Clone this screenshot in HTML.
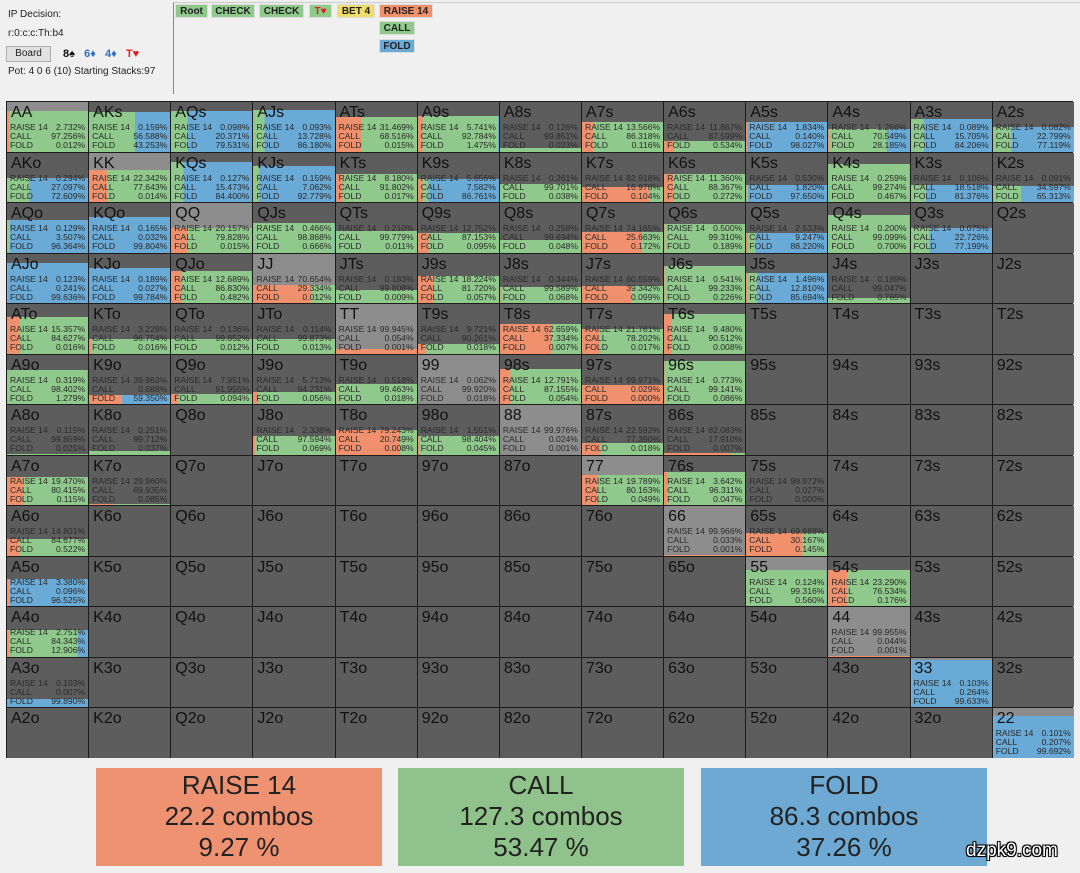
<!DOCTYPE html>
<html><head><meta charset="utf-8"><style>
*{box-sizing:border-box}
body{margin:0;width:1080px;height:873px;background:#f0f0f0;font-family:"Liberation Sans",sans-serif;position:relative;overflow:hidden;color:#222}
.t{position:absolute;font-size:10px;color:#222;white-space:nowrap}
.btn{position:absolute;font-size:10px;font-weight:bold;text-align:center;line-height:14px;height:14px;border:1px solid #ddd}
#g{position:absolute;left:6px;top:101px;width:1067px;height:657px;background:#1c1c1c;border:1px solid #1c1c1c;display:grid;grid-template-columns:repeat(13,81.15px);grid-template-rows:repeat(13,49.5px);gap:1px}
.c{position:relative;background:#5d5d5d;overflow:hidden}
.c.p{background:#8d8d8d}
.c b{position:absolute;left:4px;top:2px;font-weight:normal;font-size:16px;color:#111;z-index:2}
.c i{position:absolute;left:0;right:0;bottom:0;height:var(--h);background:linear-gradient(90deg,#f0906c var(--a),#8fc98b 0 var(--b),#6aaad6 0)}
.s{position:absolute;left:3px;right:3px;top:21px;z-index:2;font-size:8.6px;color:#2a2a2a;white-space:nowrap}
.s p{margin:0;height:9px;line-height:9px;display:flex;justify-content:space-between;white-space:nowrap}
.s em{font-style:normal}
.bx{position:absolute;top:768px;width:286px;height:98px;text-align:center;font-size:26px;line-height:31px;padding-top:2px;color:#222}
</style></head><body>
<div class="t" style="left:8px;top:9px">IP Decision:</div>
<div class="t" style="left:8px;top:28px">r:0:c:c:Th:b4</div>
<div style="position:absolute;left:6px;top:46px;width:45px;height:16px;background:#e1e1e1;border:1px solid #adadad;font-size:10px;text-align:center;line-height:14px">Board</div>
<div class="t" style="left:63px;top:48px;font-size:11px;font-weight:bold"><span style="color:#111">8♠</span>&nbsp;&nbsp; <span style="color:#2a6fc9">6♦</span>&nbsp;&nbsp; <span style="color:#2a6fc9">4♦</span>&nbsp;&nbsp; <span style="color:#e02020">T♥</span></div>
<div class="t" style="left:8px;top:66px">Pot: 4 0 6 (10) Starting Stacks:97</div>
<div style="position:absolute;left:173px;top:2px;width:910px;height:92px;border-left:1px solid #888;border-top:1px solid #ccc"></div>
<div class="btn" style="left:175px;top:4px;width:33px;background:#8fc98b">Root</div>
<div class="btn" style="left:211px;top:4px;width:44px;background:#8fc98b">CHECK</div>
<div class="btn" style="left:259px;top:4px;width:45px;background:#8fc98b">CHECK</div>
<div class="btn" style="left:309px;top:4px;width:23px;background:#8fc98b;color:#e02020">T♥</div>
<div class="btn" style="left:337px;top:4px;width:38px;background:#f0dc6c">BET 4</div>
<div class="btn" style="left:379px;top:4px;width:54px;background:#f0906c">RAISE 14</div>
<div class="btn" style="left:379px;top:21px;width:36px;background:#8fc98b">CALL</div>
<div class="btn" style="left:379px;top:39px;width:36px;background:#6aaad6">FOLD</div>

<div id="g">
<div class="c p"><i style="--h:41px;--a:2.73%;--b:99.99%"></i><b>AA</b><div class="s"><p>RAISE 14<em>2.732%</em></p><p>CALL<em>97.256%</em></p><p>FOLD<em>0.012%</em></p></div></div>
<div class="c"><i style="--h:40px;--a:0.16%;--b:56.75%"></i><b>AKs</b><div class="s"><p>RAISE 14<em>0.159%</em></p><p>CALL<em>56.588%</em></p><p>FOLD<em>43.253%</em></p></div></div>
<div class="c"><i style="--h:41px;--a:0.1%;--b:20.47%"></i><b>AQs</b><div class="s"><p>RAISE 14<em>0.098%</em></p><p>CALL<em>20.371%</em></p><p>FOLD<em>79.531%</em></p></div></div>
<div class="c"><i style="--h:42px;--a:0.09%;--b:13.82%"></i><b>AJs</b><div class="s"><p>RAISE 14<em>0.093%</em></p><p>CALL<em>13.728%</em></p><p>FOLD<em>86.180%</em></p></div></div>
<div class="c"><i style="--h:35px;--a:31.47%;--b:99.99%"></i><b>ATs</b><div class="s"><p>RAISE 14<em>31.469%</em></p><p>CALL<em>68.516%</em></p><p>FOLD<em>0.015%</em></p></div></div>
<div class="c"><i style="--h:36px;--a:5.74%;--b:98.53%"></i><b>A9s</b><div class="s"><p>RAISE 14<em>5.741%</em></p><p>CALL<em>92.784%</em></p><p>FOLD<em>1.475%</em></p></div></div>
<div class="c"><i style="--h:4px;--a:0.13%;--b:99.98%"></i><b>A8s</b><div class="s"><p>RAISE 14<em>0.126%</em></p><p>CALL<em>99.851%</em></p><p>FOLD<em>0.023%</em></p></div></div>
<div class="c"><i style="--h:30px;--a:13.57%;--b:99.88%"></i><b>A7s</b><div class="s"><p>RAISE 14<em>13.566%</em></p><p>CALL<em>86.318%</em></p><p>FOLD<em>0.116%</em></p></div></div>
<div class="c"><i style="--h:11px;--a:11.87%;--b:99.47%"></i><b>A6s</b><div class="s"><p>RAISE 14<em>11.867%</em></p><p>CALL<em>87.599%</em></p><p>FOLD<em>0.534%</em></p></div></div>
<div class="c"><i style="--h:30px;--a:1.83%;--b:1.97%"></i><b>A5s</b><div class="s"><p>RAISE 14<em>1.834%</em></p><p>CALL<em>0.140%</em></p><p>FOLD<em>98.027%</em></p></div></div>
<div class="c"><i style="--h:23px;--a:1.27%;--b:71.82%"></i><b>A4s</b><div class="s"><p>RAISE 14<em>1.266%</em></p><p>CALL<em>70.549%</em></p><p>FOLD<em>28.185%</em></p></div></div>
<div class="c"><i style="--h:33px;--a:0.09%;--b:15.79%"></i><b>A3s</b><div class="s"><p>RAISE 14<em>0.089%</em></p><p>CALL<em>15.705%</em></p><p>FOLD<em>84.206%</em></p></div></div>
<div class="c"><i style="--h:25px;--a:0.08%;--b:22.88%"></i><b>A2s</b><div class="s"><p>RAISE 14<em>0.082%</em></p><p>CALL<em>22.799%</em></p><p>FOLD<em>77.119%</em></p></div></div>
<div class="c"><i style="--h:24px;--a:0.29%;--b:27.39%"></i><b>AKo</b><div class="s"><p>RAISE 14<em>0.294%</em></p><p>CALL<em>27.097%</em></p><p>FOLD<em>72.609%</em></p></div></div>
<div class="c p"><i style="--h:32px;--a:22.34%;--b:99.99%"></i><b>KK</b><div class="s"><p>RAISE 14<em>22.342%</em></p><p>CALL<em>77.643%</em></p><p>FOLD<em>0.014%</em></p></div></div>
<div class="c"><i style="--h:40px;--a:0.13%;--b:15.6%"></i><b>KQs</b><div class="s"><p>RAISE 14<em>0.127%</em></p><p>CALL<em>15.473%</em></p><p>FOLD<em>84.400%</em></p></div></div>
<div class="c"><i style="--h:36px;--a:0.16%;--b:7.22%"></i><b>KJs</b><div class="s"><p>RAISE 14<em>0.159%</em></p><p>CALL<em>7.062%</em></p><p>FOLD<em>92.779%</em></p></div></div>
<div class="c"><i style="--h:28px;--a:8.18%;--b:99.98%"></i><b>KTs</b><div class="s"><p>RAISE 14<em>8.180%</em></p><p>CALL<em>91.802%</em></p><p>FOLD<em>0.017%</em></p></div></div>
<div class="c"><i style="--h:23px;--a:5.66%;--b:13.24%"></i><b>K9s</b><div class="s"><p>RAISE 14<em>5.656%</em></p><p>CALL<em>7.582%</em></p><p>FOLD<em>86.761%</em></p></div></div>
<div class="c"><i style="--h:18px;--a:0.26%;--b:99.96%"></i><b>K8s</b><div class="s"><p>RAISE 14<em>0.261%</em></p><p>CALL<em>99.701%</em></p><p>FOLD<em>0.038%</em></p></div></div>
<div class="c"><i style="--h:15px;--a:82.92%;--b:99.9%"></i><b>K7s</b><div class="s"><p>RAISE 14<em>82.918%</em></p><p>CALL<em>16.978%</em></p><p>FOLD<em>0.104%</em></p></div></div>
<div class="c"><i style="--h:28px;--a:11.36%;--b:99.73%"></i><b>K6s</b><div class="s"><p>RAISE 14<em>11.360%</em></p><p>CALL<em>88.367%</em></p><p>FOLD<em>0.272%</em></p></div></div>
<div class="c"><i style="--h:17px;--a:0.53%;--b:2.35%"></i><b>K5s</b><div class="s"><p>RAISE 14<em>0.530%</em></p><p>CALL<em>1.820%</em></p><p>FOLD<em>97.650%</em></p></div></div>
<div class="c"><i style="--h:38px;--a:0.26%;--b:99.53%"></i><b>K4s</b><div class="s"><p>RAISE 14<em>0.259%</em></p><p>CALL<em>99.274%</em></p><p>FOLD<em>0.467%</em></p></div></div>
<div class="c"><i style="--h:17px;--a:0.11%;--b:18.62%"></i><b>K3s</b><div class="s"><p>RAISE 14<em>0.106%</em></p><p>CALL<em>18.518%</em></p><p>FOLD<em>81.376%</em></p></div></div>
<div class="c"><i style="--h:16px;--a:0.09%;--b:34.69%"></i><b>K2s</b><div class="s"><p>RAISE 14<em>0.091%</em></p><p>CALL<em>34.597%</em></p><p>FOLD<em>65.313%</em></p></div></div>
<div class="c"><i style="--h:33px;--a:0.13%;--b:3.64%"></i><b>AQo</b><div class="s"><p>RAISE 14<em>0.129%</em></p><p>CALL<em>3.507%</em></p><p>FOLD<em>96.364%</em></p></div></div>
<div class="c"><i style="--h:36px;--a:0.17%;--b:0.2%"></i><b>KQo</b><div class="s"><p>RAISE 14<em>0.165%</em></p><p>CALL<em>0.032%</em></p><p>FOLD<em>99.804%</em></p></div></div>
<div class="c p"><i style="--h:25px;--a:20.16%;--b:99.99%"></i><b>QQ</b><div class="s"><p>RAISE 14<em>20.157%</em></p><p>CALL<em>79.828%</em></p><p>FOLD<em>0.015%</em></p></div></div>
<div class="c"><i style="--h:30px;--a:0.47%;--b:99.33%"></i><b>QJs</b><div class="s"><p>RAISE 14<em>0.466%</em></p><p>CALL<em>98.868%</em></p><p>FOLD<em>0.666%</em></p></div></div>
<div class="c"><i style="--h:22px;--a:0.21%;--b:99.99%"></i><b>QTs</b><div class="s"><p>RAISE 14<em>0.210%</em></p><p>CALL<em>99.779%</em></p><p>FOLD<em>0.011%</em></p></div></div>
<div class="c"><i style="--h:20px;--a:12.75%;--b:99.9%"></i><b>Q9s</b><div class="s"><p>RAISE 14<em>12.752%</em></p><p>CALL<em>87.153%</em></p><p>FOLD<em>0.095%</em></p></div></div>
<div class="c"><i style="--h:13px;--a:0.26%;--b:99.95%"></i><b>Q8s</b><div class="s"><p>RAISE 14<em>0.258%</em></p><p>CALL<em>99.694%</em></p><p>FOLD<em>0.048%</em></p></div></div>
<div class="c"><i style="--h:21px;--a:74.17%;--b:99.83%"></i><b>Q7s</b><div class="s"><p>RAISE 14<em>74.165%</em></p><p>CALL<em>25.663%</em></p><p>FOLD<em>0.172%</em></p></div></div>
<div class="c"><i style="--h:29px;--a:0.5%;--b:99.81%"></i><b>Q6s</b><div class="s"><p>RAISE 14<em>0.500%</em></p><p>CALL<em>99.310%</em></p><p>FOLD<em>0.189%</em></p></div></div>
<div class="c"><i style="--h:20px;--a:2.53%;--b:11.78%"></i><b>Q5s</b><div class="s"><p>RAISE 14<em>2.533%</em></p><p>CALL<em>9.247%</em></p><p>FOLD<em>88.220%</em></p></div></div>
<div class="c"><i style="--h:38px;--a:0.2%;--b:99.3%"></i><b>Q4s</b><div class="s"><p>RAISE 14<em>0.200%</em></p><p>CALL<em>99.099%</em></p><p>FOLD<em>0.700%</em></p></div></div>
<div class="c"><i style="--h:25px;--a:0.08%;--b:22.8%"></i><b>Q3s</b><div class="s"><p>RAISE 14<em>0.075%</em></p><p>CALL<em>22.726%</em></p><p>FOLD<em>77.199%</em></p></div></div>
<div class="c"><b>Q2s</b></div>
<div class="c"><i style="--h:40px;--a:0.12%;--b:0.36%"></i><b>AJo</b><div class="s"><p>RAISE 14<em>0.123%</em></p><p>CALL<em>0.241%</em></p><p>FOLD<em>99.636%</em></p></div></div>
<div class="c"><i style="--h:35px;--a:0.19%;--b:0.22%"></i><b>KJo</b><div class="s"><p>RAISE 14<em>0.189%</em></p><p>CALL<em>0.027%</em></p><p>FOLD<em>99.784%</em></p></div></div>
<div class="c"><i style="--h:32px;--a:12.69%;--b:99.52%"></i><b>QJo</b><div class="s"><p>RAISE 14<em>12.689%</em></p><p>CALL<em>86.830%</em></p><p>FOLD<em>0.482%</em></p></div></div>
<div class="c p"><i style="--h:18px;--a:70.65%;--b:99.99%"></i><b>JJ</b><div class="s"><p>RAISE 14<em>70.654%</em></p><p>CALL<em>29.334%</em></p><p>FOLD<em>0.012%</em></p></div></div>
<div class="c"><i style="--h:13px;--a:0.18%;--b:99.99%"></i><b>JTs</b><div class="s"><p>RAISE 14<em>0.183%</em></p><p>CALL<em>99.808%</em></p><p>FOLD<em>0.009%</em></p></div></div>
<div class="c"><i style="--h:27px;--a:18.22%;--b:99.94%"></i><b>J9s</b><div class="s"><p>RAISE 14<em>18.224%</em></p><p>CALL<em>81.720%</em></p><p>FOLD<em>0.057%</em></p></div></div>
<div class="c"><i style="--h:16px;--a:0.34%;--b:99.93%"></i><b>J8s</b><div class="s"><p>RAISE 14<em>0.344%</em></p><p>CALL<em>99.589%</em></p><p>FOLD<em>0.068%</em></p></div></div>
<div class="c"><i style="--h:17px;--a:60.56%;--b:99.9%"></i><b>J7s</b><div class="s"><p>RAISE 14<em>60.559%</em></p><p>CALL<em>39.342%</em></p><p>FOLD<em>0.099%</em></p></div></div>
<div class="c"><i style="--h:37px;--a:0.54%;--b:99.77%"></i><b>J6s</b><div class="s"><p>RAISE 14<em>0.541%</em></p><p>CALL<em>99.233%</em></p><p>FOLD<em>0.226%</em></p></div></div>
<div class="c"><i style="--h:30px;--a:1.5%;--b:14.31%"></i><b>J5s</b><div class="s"><p>RAISE 14<em>1.496%</em></p><p>CALL<em>12.810%</em></p><p>FOLD<em>85.694%</em></p></div></div>
<div class="c"><i style="--h:5px;--a:0.19%;--b:99.24%"></i><b>J4s</b><div class="s"><p>RAISE 14<em>0.189%</em></p><p>CALL<em>99.047%</em></p><p>FOLD<em>0.765%</em></p></div></div>
<div class="c"><b>J3s</b></div>
<div class="c"><b>J2s</b></div>
<div class="c"><i style="--h:37px;--a:15.36%;--b:99.98%"></i><b>ATo</b><div class="s"><p>RAISE 14<em>15.357%</em></p><p>CALL<em>84.627%</em></p><p>FOLD<em>0.016%</em></p></div></div>
<div class="c"><i style="--h:15px;--a:3.23%;--b:99.98%"></i><b>KTo</b><div class="s"><p>RAISE 14<em>3.229%</em></p><p>CALL<em>96.754%</em></p><p>FOLD<em>0.016%</em></p></div></div>
<div class="c"><i style="--h:15px;--a:0.14%;--b:99.99%"></i><b>QTo</b><div class="s"><p>RAISE 14<em>0.136%</em></p><p>CALL<em>99.852%</em></p><p>FOLD<em>0.012%</em></p></div></div>
<div class="c"><i style="--h:15px;--a:0.11%;--b:99.99%"></i><b>JTo</b><div class="s"><p>RAISE 14<em>0.114%</em></p><p>CALL<em>99.873%</em></p><p>FOLD<em>0.013%</em></p></div></div>
<div class="c p"><i style="--h:5px;--a:99.95%;--b:100%"></i><b>TT</b><div class="s"><p>RAISE 14<em>99.945%</em></p><p>CALL<em>0.054%</em></p><p>FOLD<em>0.001%</em></p></div></div>
<div class="c"><i style="--h:10px;--a:9.72%;--b:99.98%"></i><b>T9s</b><div class="s"><p>RAISE 14<em>9.721%</em></p><p>CALL<em>90.261%</em></p><p>FOLD<em>0.018%</em></p></div></div>
<div class="c"><i style="--h:30px;--a:62.66%;--b:99.99%"></i><b>T8s</b><div class="s"><p>RAISE 14<em>62.659%</em></p><p>CALL<em>37.334%</em></p><p>FOLD<em>0.007%</em></p></div></div>
<div class="c"><i style="--h:25px;--a:21.78%;--b:99.98%"></i><b>T7s</b><div class="s"><p>RAISE 14<em>21.781%</em></p><p>CALL<em>78.202%</em></p><p>FOLD<em>0.017%</em></p></div></div>
<div class="c"><i style="--h:40px;--a:9.48%;--b:99.99%"></i><b>T6s</b><div class="s"><p>RAISE 14<em>9.480%</em></p><p>CALL<em>90.512%</em></p><p>FOLD<em>0.008%</em></p></div></div>
<div class="c"><b>T5s</b></div><div class="c"><b>T4s</b></div><div class="c"><b>T3s</b></div><div class="c"><b>T2s</b></div>
<div class="c"><i style="--h:34px;--a:0.32%;--b:98.72%"></i><b>A9o</b><div class="s"><p>RAISE 14<em>0.319%</em></p><p>CALL<em>98.402%</em></p><p>FOLD<em>1.279%</em></p></div></div>
<div class="c"><i style="--h:9px;--a:39.96%;--b:40.65%"></i><b>K9o</b><div class="s"><p>RAISE 14<em>39.963%</em></p><p>CALL<em>0.688%</em></p><p>FOLD<em>59.350%</em></p></div></div>
<div class="c"><i style="--h:10px;--a:7.95%;--b:99.91%"></i><b>Q9o</b><div class="s"><p>RAISE 14<em>7.951%</em></p><p>CALL<em>91.955%</em></p><p>FOLD<em>0.094%</em></p></div></div>
<div class="c"><i style="--h:12px;--a:5.71%;--b:99.94%"></i><b>J9o</b><div class="s"><p>RAISE 14<em>5.713%</em></p><p>CALL<em>94.231%</em></p><p>FOLD<em>0.056%</em></p></div></div>
<div class="c"><i style="--h:20px;--a:0.52%;--b:99.98%"></i><b>T9o</b><div class="s"><p>RAISE 14<em>0.518%</em></p><p>CALL<em>99.463%</em></p><p>FOLD<em>0.018%</em></p></div></div>
<div class="c p"><b>99</b><div class="s"><p>RAISE 14<em>0.062%</em></p><p>CALL<em>99.920%</em></p><p>FOLD<em>0.018%</em></p></div></div>
<div class="c"><i style="--h:35px;--a:12.79%;--b:99.95%"></i><b>98s</b><div class="s"><p>RAISE 14<em>12.791%</em></p><p>CALL<em>87.155%</em></p><p>FOLD<em>0.054%</em></p></div></div>
<div class="c"><i style="--h:19px;--a:99.97%;--b:100%"></i><b>97s</b><div class="s"><p>RAISE 14<em>99.971%</em></p><p>CALL<em>0.029%</em></p><p>FOLD<em>0.000%</em></p></div></div>
<div class="c"><i style="--h:43px;--a:0.77%;--b:99.91%"></i><b>96s</b><div class="s"><p>RAISE 14<em>0.773%</em></p><p>CALL<em>99.141%</em></p><p>FOLD<em>0.086%</em></p></div></div>
<div class="c"><b>95s</b></div><div class="c"><b>94s</b></div><div class="c"><b>93s</b></div><div class="c"><b>92s</b></div>
<div class="c"><i style="--h:1px;--a:0.12%;--b:99.97%"></i><b>A8o</b><div class="s"><p>RAISE 14<em>0.115%</em></p><p>CALL<em>99.859%</em></p><p>FOLD<em>0.025%</em></p></div></div>
<div class="c"><i style="--h:4px;--a:0.25%;--b:99.96%"></i><b>K8o</b><div class="s"><p>RAISE 14<em>0.251%</em></p><p>CALL<em>99.712%</em></p><p>FOLD<em>0.037%</em></p></div></div>
<div class="c"><b>Q8o</b></div>
<div class="c"><i style="--h:19px;--a:2.34%;--b:99.93%"></i><b>J8o</b><div class="s"><p>RAISE 14<em>2.338%</em></p><p>CALL<em>97.594%</em></p><p>FOLD<em>0.069%</em></p></div></div>
<div class="c"><i style="--h:25px;--a:79.24%;--b:99.99%"></i><b>T8o</b><div class="s"><p>RAISE 14<em>79.243%</em></p><p>CALL<em>20.749%</em></p><p>FOLD<em>0.008%</em></p></div></div>
<div class="c"><i style="--h:19px;--a:1.55%;--b:99.96%"></i><b>98o</b><div class="s"><p>RAISE 14<em>1.551%</em></p><p>CALL<em>98.404%</em></p><p>FOLD<em>0.045%</em></p></div></div>
<div class="c p"><b>88</b><div class="s"><p>RAISE 14<em>99.976%</em></p><p>CALL<em>0.024%</em></p><p>FOLD<em>0.001%</em></p></div></div>
<div class="c"><i style="--h:12px;--a:22.59%;--b:99.98%"></i><b>87s</b><div class="s"><p>RAISE 14<em>22.592%</em></p><p>CALL<em>77.390%</em></p><p>FOLD<em>0.018%</em></p></div></div>
<div class="c"><i style="--h:2px;--a:82.08%;--b:99.99%"></i><b>86s</b><div class="s"><p>RAISE 14<em>82.083%</em></p><p>CALL<em>17.910%</em></p><p>FOLD<em>0.007%</em></p></div></div>
<div class="c"><b>85s</b></div><div class="c"><b>84s</b></div><div class="c"><b>83s</b></div><div class="c"><b>82s</b></div>
<div class="c"><i style="--h:28px;--a:19.47%;--b:99.89%"></i><b>A7o</b><div class="s"><p>RAISE 14<em>19.470%</em></p><p>CALL<em>80.415%</em></p><p>FOLD<em>0.115%</em></p></div></div>
<div class="c"><i style="--h:1px;--a:29.96%;--b:99.9%"></i><b>K7o</b><div class="s"><p>RAISE 14<em>29.960%</em></p><p>CALL<em>69.935%</em></p><p>FOLD<em>0.085%</em></p></div></div>
<div class="c"><b>Q7o</b></div><div class="c"><b>J7o</b></div><div class="c"><b>T7o</b></div><div class="c"><b>97o</b></div><div class="c"><b>87o</b></div>
<div class="c p"><i style="--h:30px;--a:19.79%;--b:99.95%"></i><b>77</b><div class="s"><p>RAISE 14<em>19.789%</em></p><p>CALL<em>80.163%</em></p><p>FOLD<em>0.049%</em></p></div></div>
<div class="c"><i style="--h:33px;--a:3.64%;--b:99.95%"></i><b>76s</b><div class="s"><p>RAISE 14<em>3.642%</em></p><p>CALL<em>96.311%</em></p><p>FOLD<em>0.047%</em></p></div></div>
<div class="c"><b>75s</b><div class="s"><p>RAISE 14<em>99.972%</em></p><p>CALL<em>0.027%</em></p><p>FOLD<em>0.000%</em></p></div></div>
<div class="c"><b>74s</b></div><div class="c"><b>73s</b></div><div class="c"><b>72s</b></div>
<div class="c"><i style="--h:17px;--a:14.8%;--b:99.48%"></i><b>A6o</b><div class="s"><p>RAISE 14<em>14.801%</em></p><p>CALL<em>84.677%</em></p><p>FOLD<em>0.522%</em></p></div></div>
<div class="c"><b>K6o</b></div><div class="c"><b>Q6o</b></div><div class="c"><b>J6o</b></div><div class="c"><b>T6o</b></div><div class="c"><b>96o</b></div><div class="c"><b>86o</b></div><div class="c"><b>76o</b></div>
<div class="c p"><i style="--h:1px;--a:99.97%;--b:100%"></i><b>66</b><div class="s"><p>RAISE 14<em>99.966%</em></p><p>CALL<em>0.033%</em></p><p>FOLD<em>0.001%</em></p></div></div>
<div class="c"><i style="--h:23px;--a:69.69%;--b:99.86%"></i><b>65s</b><div class="s"><p>RAISE 14<em>69.688%</em></p><p>CALL<em>30.167%</em></p><p>FOLD<em>0.145%</em></p></div></div>
<div class="c"><b>64s</b></div><div class="c"><b>63s</b></div><div class="c"><b>62s</b></div>
<div class="c"><i style="--h:27px;--a:3.38%;--b:3.48%"></i><b>A5o</b><div class="s"><p>RAISE 14<em>3.380%</em></p><p>CALL<em>0.096%</em></p><p>FOLD<em>96.525%</em></p></div></div>
<div class="c"><b>K5o</b></div><div class="c"><b>Q5o</b></div><div class="c"><b>J5o</b></div><div class="c"><b>T5o</b></div><div class="c"><b>95o</b></div><div class="c"><b>85o</b></div><div class="c"><b>75o</b></div><div class="c"><b>65o</b></div>
<div class="c p"><i style="--h:36px;--a:0.12%;--b:99.44%"></i><b>55</b><div class="s"><p>RAISE 14<em>0.124%</em></p><p>CALL<em>99.316%</em></p><p>FOLD<em>0.560%</em></p></div></div>
<div class="c"><i style="--h:36px;--a:23.29%;--b:99.82%"></i><b>54s</b><div class="s"><p>RAISE 14<em>23.290%</em></p><p>CALL<em>76.534%</em></p><p>FOLD<em>0.176%</em></p></div></div>
<div class="c"><b>53s</b></div><div class="c"><b>52s</b></div>
<div class="c"><i style="--h:27px;--a:2.75%;--b:87.09%"></i><b>A4o</b><div class="s"><p>RAISE 14<em>2.751%</em></p><p>CALL<em>84.343%</em></p><p>FOLD<em>12.906%</em></p></div></div>
<div class="c"><b>K4o</b></div><div class="c"><b>Q4o</b></div><div class="c"><b>J4o</b></div><div class="c"><b>T4o</b></div><div class="c"><b>94o</b></div><div class="c"><b>84o</b></div><div class="c"><b>74o</b></div><div class="c"><b>64o</b></div><div class="c"><b>54o</b></div>
<div class="c p"><i style="--h:1px;--a:99.96%;--b:100%"></i><b>44</b><div class="s"><p>RAISE 14<em>99.955%</em></p><p>CALL<em>0.044%</em></p><p>FOLD<em>0.001%</em></p></div></div>
<div class="c"><b>43s</b></div><div class="c"><b>42s</b></div>
<div class="c"><i style="--h:8px;--a:0.1%;--b:0.11%"></i><b>A3o</b><div class="s"><p>RAISE 14<em>0.103%</em></p><p>CALL<em>0.007%</em></p><p>FOLD<em>99.890%</em></p></div></div>
<div class="c"><b>K3o</b></div><div class="c"><b>Q3o</b></div><div class="c"><b>J3o</b></div><div class="c"><b>T3o</b></div><div class="c"><b>93o</b></div><div class="c"><b>83o</b></div><div class="c"><b>73o</b></div><div class="c"><b>63o</b></div><div class="c"><b>53o</b></div><div class="c"><b>43o</b></div>
<div class="c p"><i style="--h:47px;--a:0.1%;--b:0.37%"></i><b>33</b><div class="s"><p>RAISE 14<em>0.103%</em></p><p>CALL<em>0.264%</em></p><p>FOLD<em>99.633%</em></p></div></div>
<div class="c"><b>32s</b></div>
<div class="c"><b>A2o</b></div><div class="c"><b>K2o</b></div><div class="c"><b>Q2o</b></div><div class="c"><b>J2o</b></div><div class="c"><b>T2o</b></div><div class="c"><b>92o</b></div><div class="c"><b>82o</b></div><div class="c"><b>72o</b></div><div class="c"><b>62o</b></div><div class="c"><b>52o</b></div><div class="c"><b>42o</b></div><div class="c"><b>32o</b></div>
<div class="c p"><i style="--h:42px;--a:0.1%;--b:0.31%"></i><b>22</b><div class="s"><p>RAISE 14<em>0.101%</em></p><p>CALL<em>0.207%</em></p><p>FOLD<em>99.692%</em></p></div></div>
</div>

<div class="bx" style="left:96px;background:#ef9272">RAISE 14<br>22.2 combos<br>9.27 %</div>
<div class="bx" style="left:398px;background:#90c28b">CALL<br>127.3 combos<br>53.47 %</div>
<div class="bx" style="left:701px;background:#6da9d2">FOLD<br>86.3 combos<br>37.26 %</div>
<div style="position:absolute;left:966px;top:840px;font-size:19px;color:#fff;text-shadow:-1px -1px 0 #000,1px -1px 0 #000,-1px 1px 0 #000,1px 1px 0 #000,0 0 2px #000">dzpk9.com</div>
</body></html>
